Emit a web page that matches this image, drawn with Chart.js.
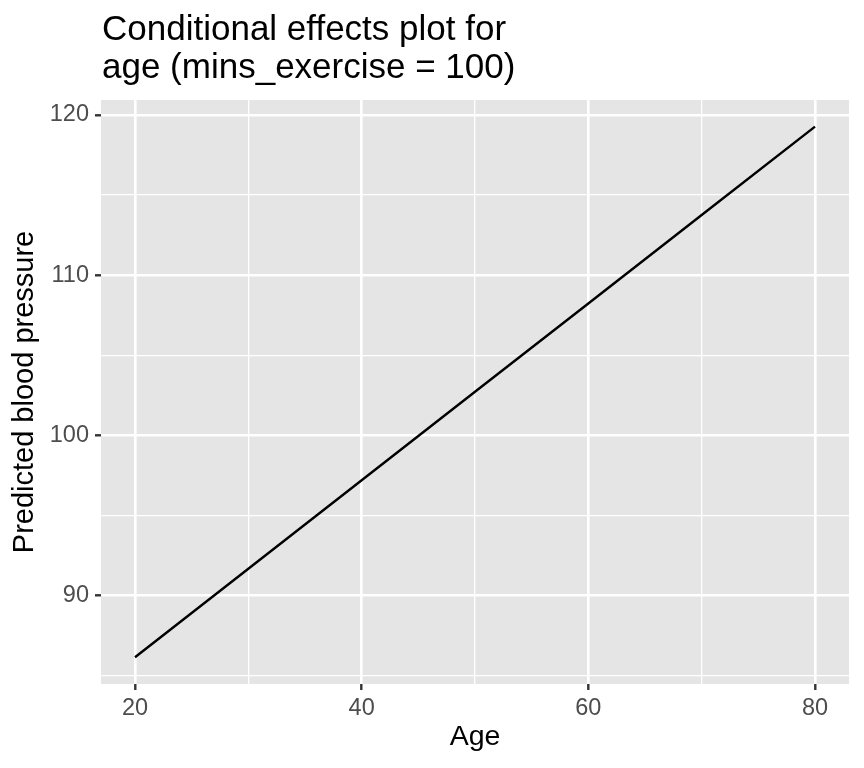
<!DOCTYPE html>
<html>
<head>
<meta charset="utf-8">
<script src="https://cdn.jsdelivr.net/npm/chart.js@4"></script>
<style>
  body { margin: 0; background: #fff; }
  canvas { display: block; }
</style>
</head>
<body>
<canvas id="chartCanvas" width="864" height="768"></canvas>
<script>
// values
const ages = [20, 30, 40, 50, 60, 70, 80];
const predicted = [86.15, 91.67, 97.2, 102.72, 108.23, 113.75, 119.27];
const xTicks = [20, 30, 40, 50, 60, 70, 80];
const yTicks = [85, 90, 95, 100, 105, 110, 115, 120];
const titleLines = ["Conditional effects plot for", "age (mins_exercise = 100)"];

const FONT = "'Liberation Sans', Arial, Helvetica, sans-serif";

// grey panel behind the plot, title at the top left
const panelPlugin = {
  id: "panel",
  beforeDraw(chart) {
    const { ctx, chartArea } = chart;
    ctx.save();
    ctx.fillStyle = "#ffffff";
    ctx.fillRect(0, 0, chart.width, chart.height);
    ctx.fillStyle = "#E5E5E5";
    ctx.fillRect(chartArea.left, chartArea.top, chartArea.right - chartArea.left, chartArea.bottom - chartArea.top);
    ctx.restore();
  },
  afterDraw(chart) {
    const ctx = chart.ctx;
    ctx.save();
    ctx.fillStyle = "#000000";
    ctx.font = "35px " + FONT;
    ctx.textAlign = "left";
    ctx.textBaseline = "alphabetic";
    ctx.fillText(titleLines[0], 102, 40);
    ctx.fillText(titleLines[1], 102, 78);
    ctx.restore();
  },
};

const isMajorX = (v) => v % 20 === 0;
const isMajorY = (v) => v % 10 === 0;

new Chart(document.getElementById("chartCanvas"), {
  type: "line",
  data: {
    datasets: [
      {
        data: ages.map((a, i) => ({ x: a, y: predicted[i] })),
        borderColor: "#000000",
        borderWidth: 2.4,
        pointRadius: 0,
        tension: 0,
        fill: false,
      },
    ],
  },
  options: {
    responsive: false,
    animation: false,
    devicePixelRatio: 1,
    layout: { padding: { top: 100, right: 15, left: 0, bottom: 0 } },
    plugins: {
      legend: { display: false },
      tooltip: { enabled: false },
    },
    scales: {
      x: {
        type: "linear",
        min: 17,
        max: 83,
        afterBuildTicks: (scale) => {
          scale.ticks = xTicks.map((v) => ({ value: v }));
        },
        afterFit: (scale) => {
          scale.height = 84;
        },
        border: { display: false },
        grid: {
          color: "#ffffff",
          lineWidth: (c) => (c.tick && isMajorX(c.tick.value) ? 2.6 : 1.3),
          tickColor: (c) => (c.tick && isMajorX(c.tick.value) ? "#333333" : "rgba(0,0,0,0)"),
          tickLength: 6,
          tickWidth: 2.4,
        },
        ticks: {
          autoSkip: false,
          maxRotation: 0,
          padding: 4,
          color: "#4D4D4D",
          font: { family: FONT, size: 23.5 },
          callback: (v) => (isMajorX(v) ? String(v) : ""),
        },
        title: {
          display: true,
          text: "Age",
          color: "#000000",
          font: { family: FONT, size: 28.5 },
          padding: { top: 0, bottom: 14 },
        },
      },
      y: {
        type: "linear",
        min: 84.48,
        max: 120.93,
        afterBuildTicks: (scale) => {
          scale.ticks = yTicks.map((v) => ({ value: v }));
        },
        afterFit: (scale) => {
          scale.width = 101;
        },
        border: { display: false },
        grid: {
          color: "#ffffff",
          lineWidth: (c) => (c.tick && isMajorY(c.tick.value) ? 2.6 : 1.3),
          tickColor: (c) => (c.tick && isMajorY(c.tick.value) ? "#333333" : "rgba(0,0,0,0)"),
          tickLength: 6,
          tickWidth: 2.4,
        },
        ticks: {
          autoSkip: false,
          padding: 6,
          color: "#4D4D4D",
          font: { family: FONT, size: 23.5 },
          callback: (v) => (isMajorY(v) ? String(v) : ""),
        },
        title: {
          display: true,
          text: "Predicted blood pressure",
          color: "#000000",
          font: { family: FONT, size: 29 },
          padding: { top: 8, bottom: 0 },
        },
      },
    },
  },
  plugins: [panelPlugin],
});
</script>
</body>
</html>
